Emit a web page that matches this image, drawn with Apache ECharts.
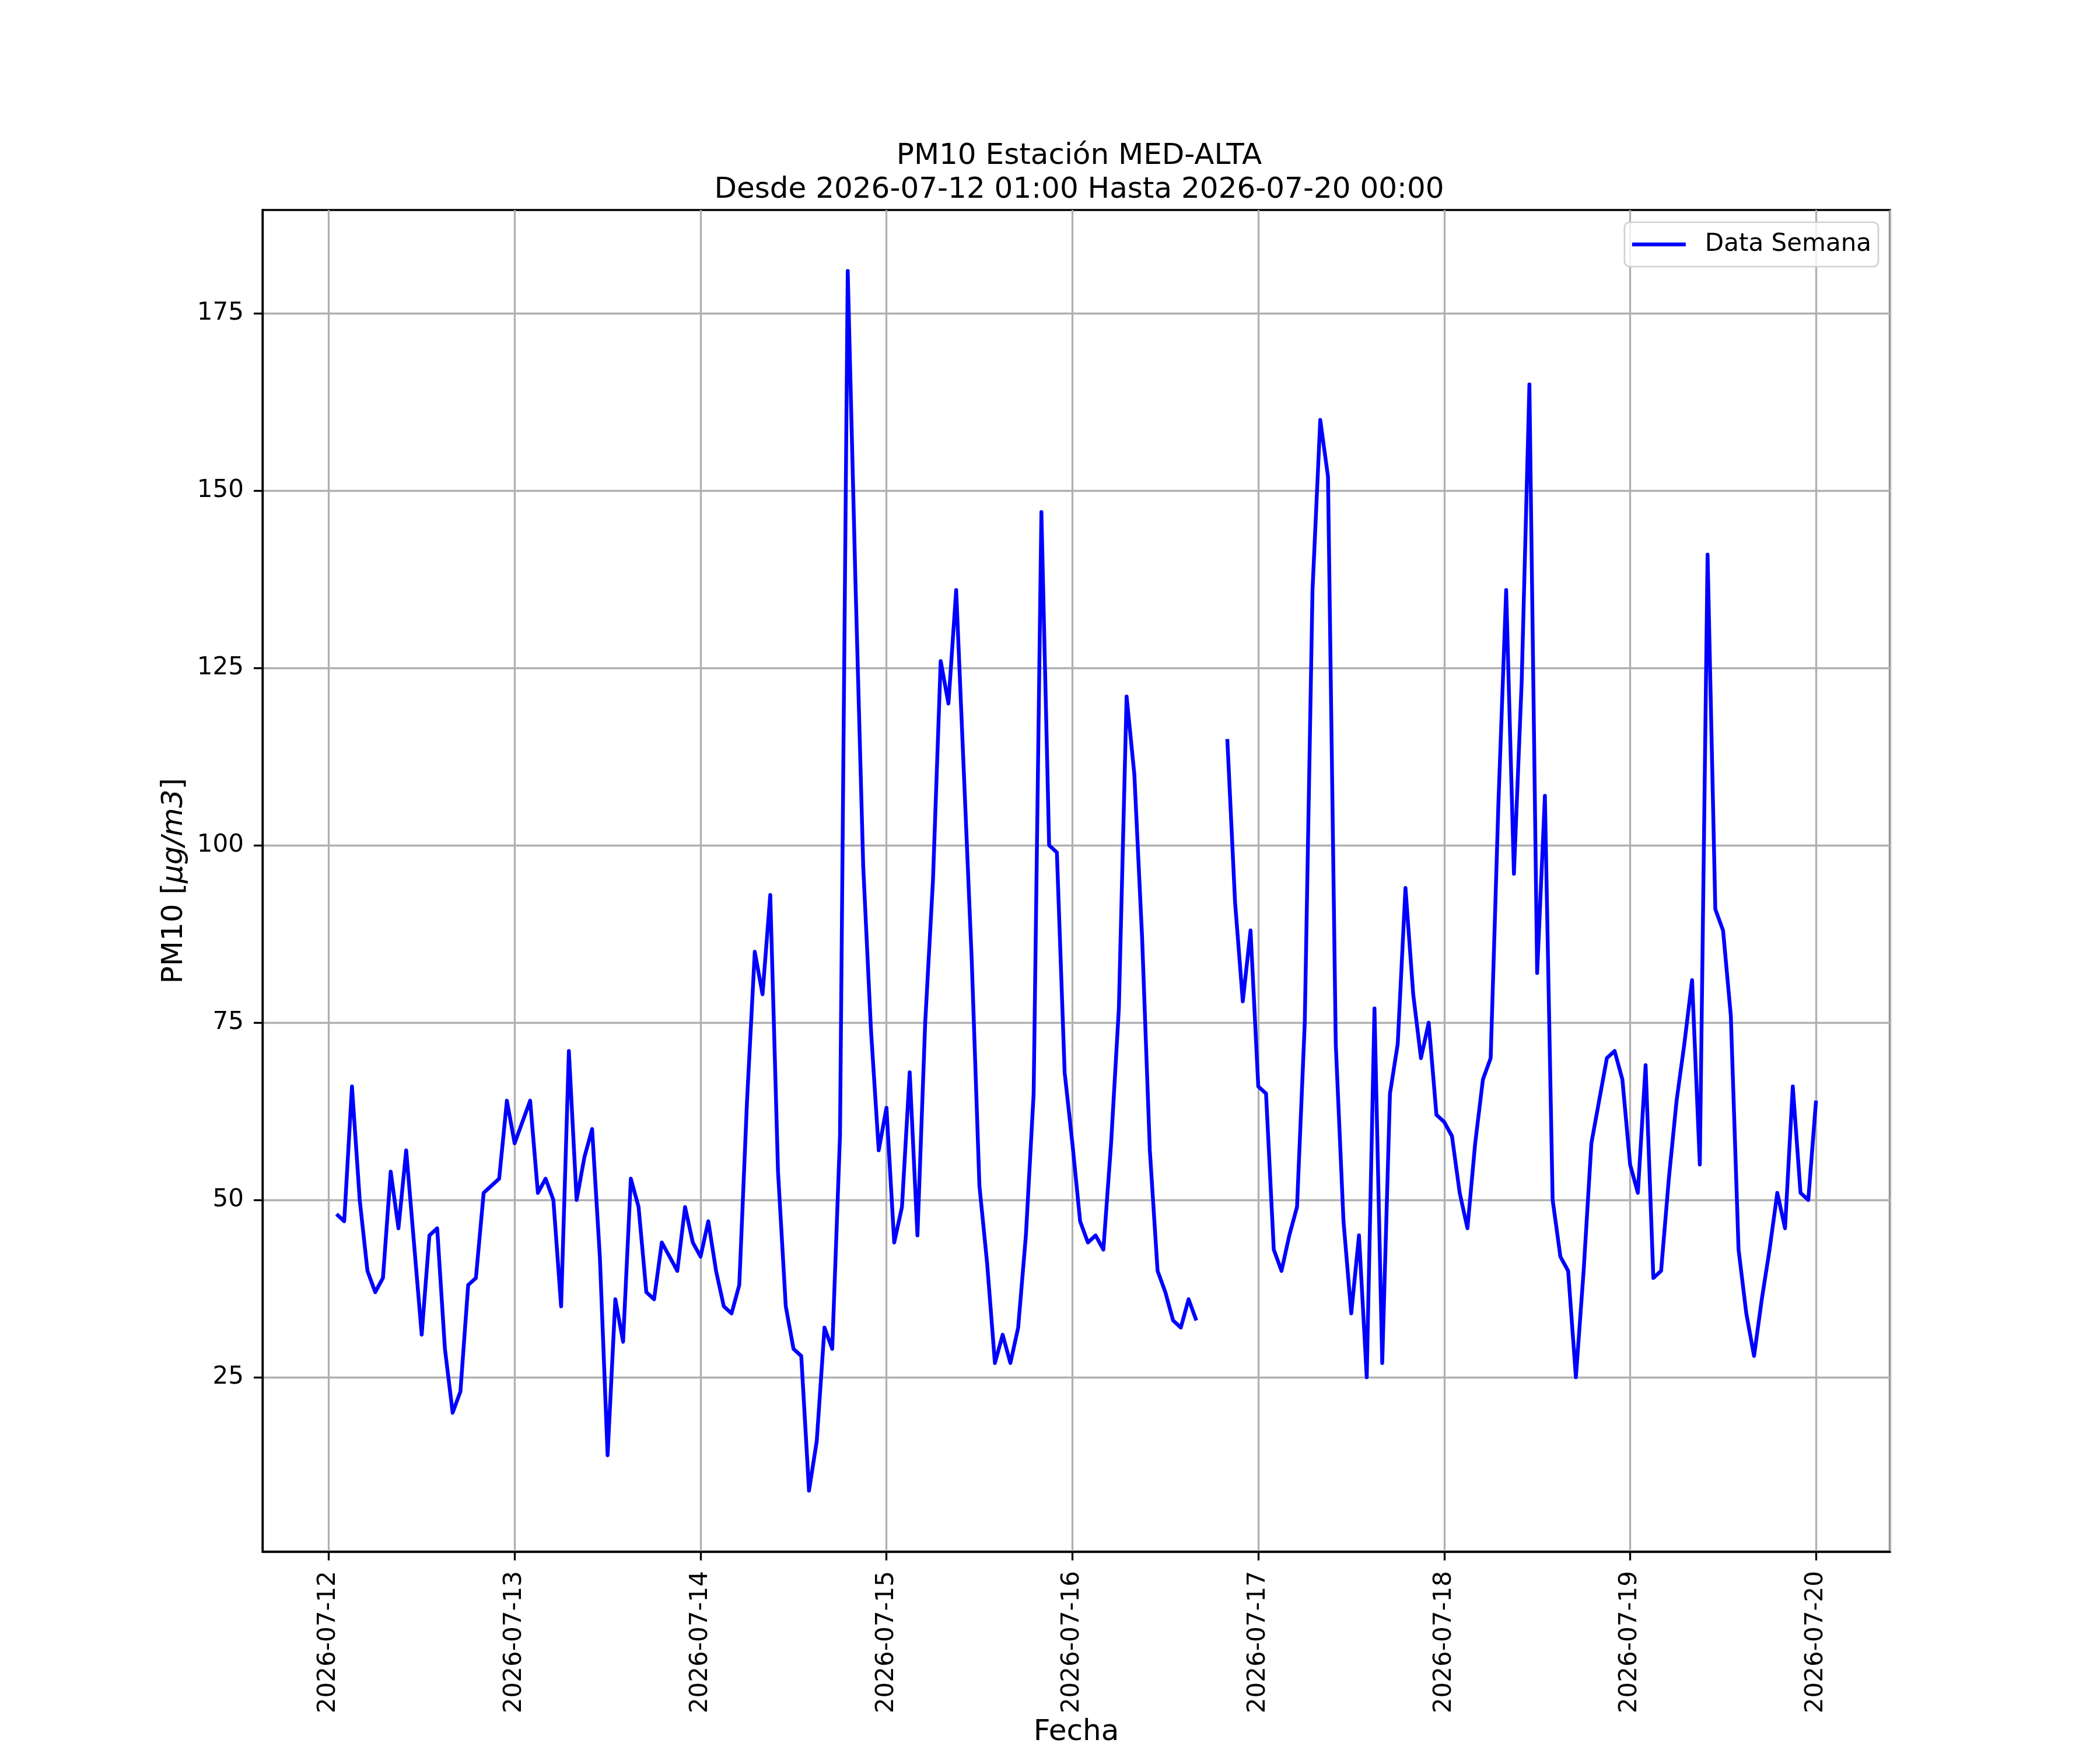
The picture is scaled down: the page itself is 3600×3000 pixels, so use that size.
<!DOCTYPE html>
<html>
<head>
<meta charset="utf-8">
<title>PM10 Estación MED-ALTA</title>
<script src="https://cdn.jsdelivr.net/npm/echarts@6/dist/echarts.min.js"></script>
<style>
  html, body { margin: 0; padding: 0; background: #ffffff; }
  #echarts { width: 3600px; height: 3000px; }
</style>
</head>
<body>
<div id="echarts"></div>
<script>
// datos horarios PM10, un arreglo por dia (hora 00:00 a 23:00)
var inicio = [2026, 6, 12, 1];   // primera medicion: 2026-07-12 01:00
var pm10_12 = [48, 47, 66, 50, 40, 37, 39, 54, 46, 57, 44, 31, 45, 46, 29, 20, 23, 38, 39, 51, 52, 53, 64];
var pm10_13 = [58, 61, 64, 51, 53, 50, 35, 71, 50, 56, 60, 42, 14, 36, 30, 53, 49, 37, 36, 44, 42, 40, 49, 44];
var pm10_14 = [42, 47, 40, 35, 34, 38, 64, 85, 79, 93, 54, 35, 29, 28, 9, 16, 32, 29, 59, 181, 137, 97, 74, 57];
var pm10_15 = [63, 44, 49, 68, 45, 75, 95, 126, 120, 136, 110, 84, 52, 41, 27, 31, 27, 32, 45, 65, 147, 100, 99, 68];
var pm10_16 = [58, 47, 44, 45, 43, 58, 77, 121, 110, 87, 57, 40, 37, 33, 32, 36, 33, null, null, null, 115, 92, 78, 88];
var pm10_17 = [66, 65, 43, 40, 45, 49, 75, 136, 160, 152, 72, 47, 34, 45, 25, 77, 27, 65, 72, 94, 79, 70, 75, 62];
var pm10_18 = [61, 59, 51, 46, 58, 67, 70, 106, 136, 96, 123, 165, 82, 107, 50, 42, 40, 25, 40, 58, 64, 70, 71, 67];
var pm10_19 = [55, 51, 69, 39, 40, 53, 64, 72, 81, 55, 141, 91, 88, 76, 43, 34, 28, 36, 43, 51, 46, 66, 51, 50];
var pm10_20 = [64];

var yTicks = [25, 50, 75, 100, 125, 150, 175];

var titulo = 'PM10 Estación MED-ALTA\nDesde 2026-07-12 01:00 Hasta 2026-07-20 00:00';
var nombreSerie = 'Data Semana';

// serie completa [fecha, valor] una por hora
var valores = [].concat(pm10_12, pm10_13, pm10_14, pm10_15, pm10_16, pm10_17, pm10_18, pm10_19, pm10_20);
var hora = 3600 * 1000;
var t0 = new Date(inicio[0], inicio[1], inicio[2], inicio[3]).getTime();
var datos = [];
for (var i = 0; i < valores.length; i++) {
	datos.push([t0 + i * hora, valores[i]]);
}
var tFin = t0 + (valores.length - 1) * hora;
var margen = (tFin - t0) * 0.05; // margen de 5% como matplotlib

// rango y con el mismo margen de 5%
var vMin = Math.min.apply(null, valores.filter(function(v) { return v !== null; }));
var vMax = Math.max.apply(null, valores);
var yMargen = (vMax - vMin) * 0.05;

var fuente = 'DejaVu Sans';
var gris = '#b0b0b0';

var myecharts = echarts.init(document.getElementById('echarts'));
var option = {
	backgroundColor: '#ffffff',
	animation: false,
	title: {
		text: titulo,
		left: 1845,
		textAlign: 'center',
		top: 234,
		textStyle: {
			fontFamily: fuente,
			fontSize: 50,
			fontWeight: 'normal',
			color: '#000',
			lineHeight: 58
		}
	},
	legend: {
		data: [nombreSerie],
		right: 380,
		top: 381,
		orient: 'vertical',
		icon: 'rect',
		itemWidth: 92,
		itemHeight: 6.5,
		padding: [17, 12, 17, 13],
		backgroundColor: 'rgba(255,255,255,0.8)',
		borderColor: '#d0d0d0',
		borderWidth: 2.7,
		borderRadius: 9,
		textStyle: {
			fontFamily: fuente,
			fontSize: 42,
			color: '#000',
			padding: [0, 0, 0, 28]
		}
	},
	grid: {
		left: 450,
		right: 360,
		top: 360,
		bottom: 330,
		show: true,
		borderColor: '#000',
		borderWidth: 3.3,
		backgroundColor: 'transparent'
	},
	xAxis: {
		type: 'time',
		min: t0 - margen,
		max: tFin + margen,
		minInterval: 24 * hora,
		maxInterval: 24 * hora,
		name: 'Fecha',
		nameLocation: 'middle',
		nameGap: 283,
		nameTextStyle: { fontFamily: fuente, fontSize: 50, color: '#000' },
		axisLine: { lineStyle: { color: '#000', width: 3.3 } },
		axisTick: { show: true, length: 15, lineStyle: { color: '#000', width: 3.3 } },
		axisLabel: {
			rotate: 90,
			margin: 33,
			showMinLabel: false,
			showMaxLabel: false,
			fontFamily: fuente,
			fontSize: 42,
			color: '#000',
			formatter: '{yyyy}-{MM}-{dd}'
		},
		splitLine: { show: true, lineStyle: { color: gris, width: 3.3 } }
	},
	yAxis: {
		type: 'value',
		min: vMin - yMargen,
		max: vMax + yMargen,
		name: 'PM10 [{i|μg/m3}]',
		nameLocation: 'middle',
		nameRotate: 90,
		nameGap: 126,
		nameTextStyle: {
			fontFamily: fuente,
			fontSize: 50,
			color: '#000',
			rich: {
				i: { fontFamily: fuente, fontSize: 50, fontStyle: 'italic', color: '#000' }
			}
		},
		axisLine: { show: true, lineStyle: { color: '#000', width: 3.3 } },
		axisTick: { show: true, length: 15, customValues: yTicks, lineStyle: { color: '#000', width: 3.3 } },
		axisLabel: {
			margin: 32,
			customValues: yTicks,
			fontFamily: fuente,
			fontSize: 42,
			color: '#000'
		},
		splitLine: { show: true, lineStyle: { color: gris, width: 3.3 } }
	},
	series: [{
		name: nombreSerie,
		type: 'line',
		data: datos,
		showSymbol: false,
		symbol: 'none',
		connectNulls: false,
		color: '#0000ff',
		lineStyle: { color: '#0000ff', width: 6.5, join: 'round' }
	}]
};
myecharts.setOption(option);
</script>
</body>
</html>
